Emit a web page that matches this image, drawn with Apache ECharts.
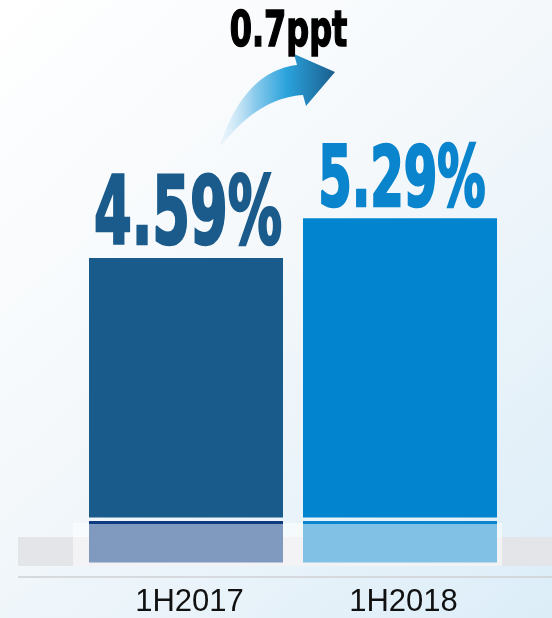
<!DOCTYPE html>
<html><head><meta charset="utf-8">
<script src="https://cdn.jsdelivr.net/npm/echarts@6/dist/echarts.min.js"></script>
<style>html,body{margin:0;padding:0;background:#fff;}#c{width:552px;height:618px;}</style>
</head><body><div id="c"></div>
<script>
// ---- data ----
const categories = ['1H2017', '1H2018'];
const values = [4.59, 5.29];
const valueLabels = ['4.59%', '5.29%'];
const changeLabel = '0.7ppt';

// ---- styles ----
const barColors = ['#195b8b', '#0284ce'];
const lineColors = ['#0e3a80', '#0a86cf'];
const reflectColors = ['#8099bf', '#80c1e5'];
const labelColors = ['#1a5b8b', '#0a84cc'];
const labelFontSizes = [90, 80];
const BAR_W = 194;
const NARROW = '"Liberation Sans Narrow","DejaVu Sans Condensed",sans-serif';
const LABEL_SX = 0.67, LABEL_SY = 1.04, LABEL_GAP = 4.5;
const Y_MIN = -1.05, Y_MAX = 8;

// arrow outline (decoration): quadratic edges sampled into a polygon
function quad(p0, c, p2, n) {
  const pts = [];
  for (let k = 0; k <= n; k++) {
    const t = k / n, u = 1 - t;
    pts.push([u * u * p0[0] + 2 * u * t * c[0] + t * t * p2[0], u * u * p0[1] + 2 * u * t * c[1] + t * t * p2[1]]);
  }
  return pts;
}
const arrowPts = [].concat(
  quad([220, 145], [245, 71], [297, 65], 24),
  [[294, 54], [335, 72], [306, 106]],
  quad([303, 95], [258, 98], [221, 146], 24)
);

function reflection(params, api) {
  const i = api.value(0);
  const p = api.coord([i, 0]);
  const x = p[0] - BAR_W / 2;
  return {
    type: 'group',
    children: [
      { type: 'rect', shape: { x: x, y: p[1] + 3.5, width: BAR_W, height: 3 }, style: { fill: lineColors[i] } },
      { type: 'rect', shape: { x: x, y: p[1] + 6.5, width: BAR_W, height: 38.5 }, style: { fill: reflectColors[i] } }
    ]
  };
}

function labels(params, api) {
  const i = api.value(0);
  const p = api.coord([i, api.value(1)]);
  const F = labelFontSizes[i];
  const half = 0.716 * F * LABEL_SY / 2;
  return {
    type: 'text',
    x: p[0] + 2,
    y: p[1] - LABEL_GAP - half,
    scaleX: LABEL_SX,
    scaleY: LABEL_SY,
    style: {
      text: valueLabels[i], x: 0, y: 0,
      font: 'bold ' + F + 'px ' + NARROW,
      fill: labelColors[i],
      stroke: labelColors[i], lineWidth: 2.5,
      align: 'center', verticalAlign: 'middle',
      textAlign: 'center', textVerticalAlign: 'middle'
    }
  };
}

const chart = echarts.init(document.getElementById('c'), null, { renderer: 'canvas' });
const option = {
  animation: false,
  backgroundColor: {
    type: 'linear', x: 0, y: 0, x2: 1, y2: 1,
    colorStops: [
      { offset: 0, color: '#ffffff' },
      { offset: 0.45, color: '#f4f8fb' },
      { offset: 1, color: '#dcedf8' }
    ]
  },
  grid: { left: 79, right: 45, top: 65, bottom: 41 },
  xAxis: {
    type: 'category', data: categories,
    axisLine: { show: false }, axisTick: { show: false }, splitLine: { show: false },
    axisLabel: { fontSize: 31, color: '#111', fontFamily: '"Liberation Sans",Arial,sans-serif', margin: 10, padding: [0, 0, 0, 7] }
  },
  yAxis: { type: 'value', min: Y_MIN, max: Y_MAX, show: false, splitLine: { show: false } },
  series: [
    {
      type: 'bar', barWidth: BAR_W, z: 3,
      data: values.map((v, i) => ({ value: v, itemStyle: { color: barColors[i] } }))
    },
    { type: 'custom', z: 3, data: values.map((v, i) => [i, v]), renderItem: reflection },
    { type: 'custom', z: 4, data: values.map((v, i) => [i, v]), renderItem: labels }
  ],
  graphic: [
    { type: 'rect', z: 0, shape: { x: 18, y: 537, width: 534, height: 29 }, style: { fill: '#e4e5e9' } },
    { type: 'rect', z: 1, shape: { x: 73, y: 523, width: 429, height: 43 }, style: { fill: 'rgba(255,255,255,0.55)' } },
    { type: 'line', z: 1, shape: { x1: 18, y1: 577, x2: 552, y2: 577 }, style: { stroke: '#cfd0d3', lineWidth: 1.5 } },
    {
      type: 'polygon', z: 5,
      shape: { points: arrowPts },
      style: {
        fill: {
          type: 'linear', x: 0, y: 0.5, x2: 1, y2: 0.5,
          colorStops: [
            { offset: 0, color: 'rgba(210,234,248,0.3)' },
            { offset: 0.3, color: '#8ccbec' },
            { offset: 0.58, color: '#2aa3dc' },
            { offset: 1, color: '#1b5e8e' }
          ]
        }
      }
    },
    {
      type: 'text', z: 5, x: 288.5, y: 32.5, scaleX: 0.74, scaleY: 1.05,
      style: {
        text: changeLabel, x: 0, y: 0,
        font: 'bold 48px ' + NARROW, fill: '#000',
        stroke: '#000', lineWidth: 1.5,
        textAlign: 'center', textVerticalAlign: 'middle'
      }
    }
  ]
};
chart.setOption(option);
</script>
</body></html>
